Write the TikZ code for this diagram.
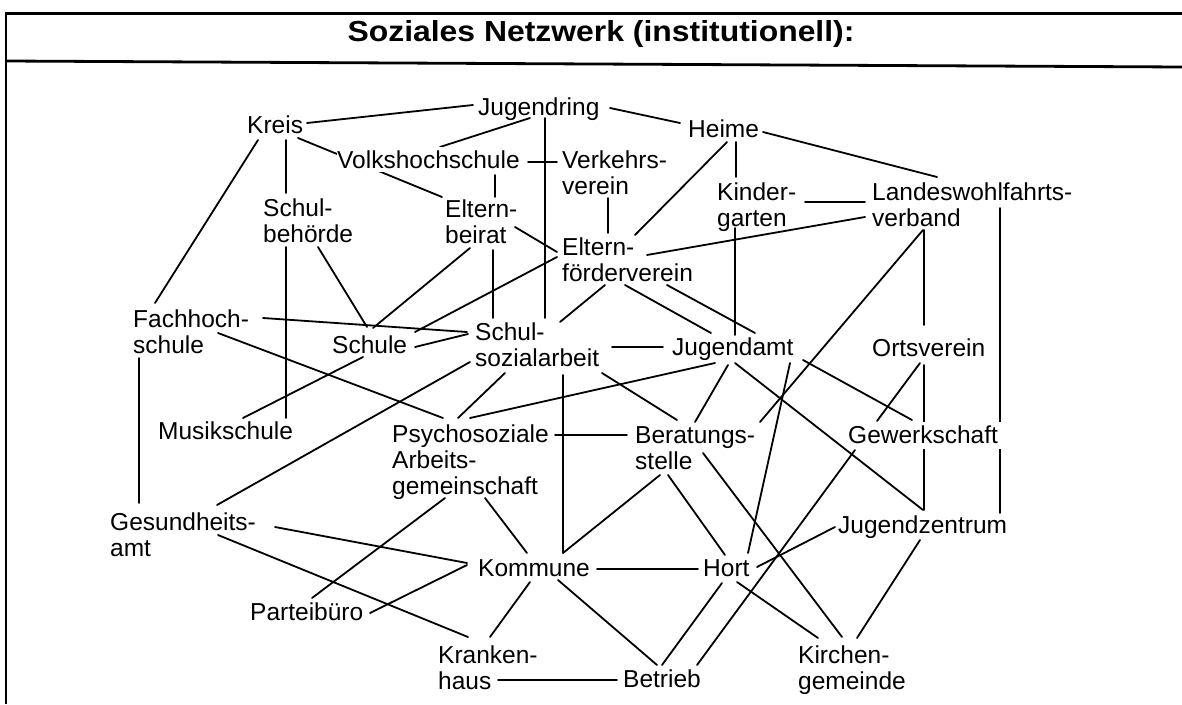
\documentclass[tikz,border=0pt]{standalone}
\usepackage{fontspec}
\setmainfont{Liberation Sans}
\newfontfamily\titlefont[FakeStretch=1.1]{Liberation Sans}
\usetikzlibrary{backgrounds}
% stacked label lines; the box baseline stays on the first line
\newcommand\twolines[2]{\vtop{\hbox{#1}\hbox{#2}}}
\newcommand\threelines[3]{\vtop{\hbox{#1}\hbox{#2}\hbox{#3}}}

\begin{document}
\begin{tikzpicture}[x=1pt,y=-1pt,
  lbl/.style={inner sep=0pt, anchor=base west,
              font=\fontsize{24.5}{26}\selectfont},
  cover/.style={lbl, fill=white, text height=21pt, text depth=6pt},
  link/.style={line width=1.8pt, line cap=round},
  frame/.style={line width=2.4pt}]

\useasboundingbox (0,0) rectangle (1182,704);

% frame and title bar
\draw[frame] (6,704) -- (6,13.5) -- (1182,13.5);
\draw[line width=2.8pt] (6,61) -- (1182,67);
\node[font=\titlefont\bfseries\fontsize{29}{32}\selectfont, anchor=base, inner sep=0pt]
  (title) at (601,41) {Soziales Netzwerk (institutionell):};

% institutions
\node[lbl] (jugendring) at (478,115) {Jugendring};
\node[lbl] (kreis)      at (247,133) {Kreis};
\node[lbl] (heime)      at (688,137) {Heime};
\node[cover, text depth=4pt] (vhs) at (337,168) {Volkshochschule};
\node[lbl] (verkehr)    at (562,168) {\twolines{Verkehrs-}{verein}};
\node[lbl] (kinder)     at (717,200) {\twolines{Kinder-}{garten}};
\node[lbl] (lwv)        at (872,200) {\twolines{Landeswohlfahrts-}{verband}};
\node[lbl] (schulbeh)   at (263,216) {\twolines{Schul-}{behörde}};
\node[lbl] (ebeirat)    at (445,217) {\twolines{Eltern-}{beirat}};
\node[lbl] (efoerder)   at (562,255) {\twolines{Eltern-}{förderverein}};
\node[lbl] (fachhoch)   at (133,327) {\twolines{Fachhoch-}{schule}};
\node[lbl] (schule)     at (332,353) {Schule};
\node[lbl] (ssa)        at (475,340) {\twolines{Schul-}{sozialarbeit}};
\node[lbl] (jamt)       at (672,355) {Jugendamt};
\node[lbl] (ortsv)      at (872,356) {Ortsverein};
\node[lbl] (musik)      at (158,439) {Musikschule};
\node[lbl] (psycho)     at (392,442) {\threelines{Psychosoziale}{Arbeits-}{gemeinschaft}};
\node[lbl] (berat)      at (635,443) {\twolines{Beratungs-}{stelle}};
\node[cover] (gewerk)   at (848,443) {Gewerkschaft\kern4pt};
\node[lbl] (gesund)     at (110,530) {\twolines{Gesundheits-}{amt}};
\node[lbl] (jzentrum)   at (838,533) {Jugendzentrum};
\node[lbl] (kommune)    at (478,576) {Kommune};
\node[lbl] (hort)       at (703,576) {Hort};
\node[lbl] (partei)     at (250,620) {Parteibüro};
\node[lbl] (kranken)    at (438,663) {\twolines{Kranken-}{haus}};
\node[lbl] (betrieb)    at (623,687) {Betrieb};
\node[lbl] (kirchen)    at (798,663) {\twolines{Kirchen-}{gemeinde}};

% connections (kept below the labels)
\begin{scope}[on background layer]
\draw[link] ([shift={(60,-10)}]kreis.base west) -- ([shift={(-5,-10)}]jugendring.base west);
\draw[link] ([shift={(52,3)}]jugendring.base west) -- ([shift={(103,-21)}]vhs.base west);
\draw[link] ([shift={(132,-7)}]jugendring.base west) -- ([shift={(-8,-14)}]heime.base west);
\draw[link] ([shift={(67,3)}]jugendring.base west) -- ([shift={(70,-22)}]ssa.base west);
\draw[link] ([shift={(51,5)}]kreis.base west) -- ([shift={(-3,-20)}]ebeirat.base west);
\draw[link] ([shift={(39,7)}]kreis.base west) -- ([shift={(23,-23)}]schulbeh.base west);
\draw[link] ([shift={(11,7)}]kreis.base west) -- ([shift={(22,-24)}]fachhoch.base west);
\draw[link] ([shift={(191,-6)}]vhs.base west) -- ([shift={(-5,-6)}]verkehr.base west);
\draw[link] ([shift={(158,7)}]vhs.base west) -- ([shift={(50,-20)}]ebeirat.base west);
\draw[link] ([shift={(23,31)}]schulbeh.base west) -- ([shift={(128,-21)}]musik.base west);
\draw[link] ([shift={(55,31)}]schulbeh.base west) -- ([shift={(35,-26)}]schule.base west);
\draw[link] ([shift={(25,31)}]ebeirat.base west) -- ([shift={(41,-25)}]schule.base west);
\draw[link] ([shift={(48,33)}]ebeirat.base west) -- ([shift={(18,-22)}]ssa.base west);
\draw[link] ([shift={(70,10)}]ebeirat.base west) -- ([shift={(-5,-3)}]efoerder.base west);
\draw[link] ([shift={(-5,2)}]efoerder.base west) -- ([shift={(83,-21)}]schule.base west);
\draw[link] ([shift={(46,30)}]verkehr.base west) -- ([shift={(46,-22)}]efoerder.base west);
\draw[link] ([shift={(39,5)}]heime.base west) -- ([shift={(73,-20)}]efoerder.base west);
\draw[link] ([shift={(48,5)}]heime.base west) -- ([shift={(19,-23)}]kinder.base west);
\draw[link] ([shift={(75,-5)}]heime.base west) -- ([shift={(65,-23)}]lwv.base west);
\draw[link] ([shift={(88,2)}]kinder.base west) -- ([shift={(-7,2)}]lwv.base west);
\draw[link] ([shift={(85,0)}]efoerder.base west) -- ([shift={(-7,17)}]lwv.base west);
\draw[link] ([shift={(18,28)}]kinder.base west) -- ([shift={(63,-20)}]jamt.base west);
\draw[link] ([shift={(51,30)}]lwv.base west) -- ([shift={(125,-21)}]berat.base west);
\draw[link] ([shift={(52,30)}]lwv.base west) -- ([shift={(52,-31)}]ortsv.base west);
\draw[link] ([shift={(128,8)}]lwv.base west) -- ([shift={(162,-20)}]jzentrum.base west);
\draw[link] ([shift={(43,30)}]efoerder.base west) -- ([shift={(85,-18)}]ssa.base west);
\draw[link] ([shift={(63,30)}]efoerder.base west) -- ([shift={(39,-22)}]jamt.base west);
\draw[link] ([shift={(105,30)}]efoerder.base west) -- ([shift={(83,-22)}]jamt.base west);
\draw[link] ([shift={(130,-9)}]fachhoch.base west) -- ([shift={(-8,-8)}]ssa.base west);
\draw[link] ([shift={(85,6)}]fachhoch.base west) -- ([shift={(51,-24)}]psycho.base west);
\draw[link] ([shift={(6,31)}]fachhoch.base west) -- ([shift={(29,-27)}]gesund.base west);
\draw[link] ([shift={(83,-6)}]schule.base west) -- ([shift={(-7,-6)}]ssa.base west);
\draw[link] ([shift={(31,4)}]schule.base west) -- ([shift={(85,-21)}]musik.base west);
\draw[link] ([shift={(-5,22)}]ssa.base west) -- ([shift={(107,-25)}]gesund.base west);
\draw[link] ([shift={(30,33)}]ssa.base west) -- ([shift={(66,-24)}]psycho.base west);
\draw[link] ([shift={(88,35)}]ssa.base west) -- ([shift={(85,-23)}]kommune.base west);
\draw[link] ([shift={(137,7)}]ssa.base west) -- ([shift={(-9,-8)}]jamt.base west);
\draw[link] ([shift={(127,33)}]ssa.base west) -- ([shift={(42,-23)}]berat.base west);
\draw[link] ([shift={(43,8)}]jamt.base west) -- ([shift={(78,-24)}]psycho.base west);
\draw[link] ([shift={(163,-7)}]psycho.base west) -- ([shift={(-8,-8)}]berat.base west);
\draw[link] ([shift={(56,10)}]jamt.base west) -- ([shift={(60,-21)}]berat.base west);
\draw[link] ([shift={(131,5)}]jamt.base west) -- ([shift={(64,-23)}]gewerk.base west);
\draw[link] ([shift={(63,8)}]jamt.base west) -- ([shift={(85,-23)}]jzentrum.base west);
\draw[link] ([shift={(118,8)}]jamt.base west) -- ([shift={(45,-23)}]hort.base west);
\draw[link] ([shift={(48,7)}]ortsv.base west) -- ([shift={(29,-22)}]gewerk.base west);
\draw[link] ([shift={(52,9)}]ortsv.base west) -- ([shift={(86,-23)}]jzentrum.base west);
\draw[link] ([shift={(25,32)}]berat.base west) -- ([shift={(85,-23)}]kommune.base west);
\draw[link] ([shift={(33,32)}]berat.base west) -- ([shift={(22,-21)}]hort.base west);
\draw[link] ([shift={(68,10)}]berat.base west) -- ([shift={(44,-26)}]kirchen.base west);
\draw[link] ([shift={(7,7)}]gewerk.base west) -- ([shift={(74,-22)}]betrieb.base west);
\draw[link] ([shift={(-3,-6)}]jzentrum.base west) -- ([shift={(54,-9)}]hort.base west);
\draw[link] ([shift={(119,-7)}]kommune.base west) -- ([shift={(-5,-7)}]hort.base west);
\draw[link] ([shift={(80,4)}]kommune.base west) -- ([shift={(34,-22)}]betrieb.base west);
\draw[link] ([shift={(19,7)}]hort.base west) -- ([shift={(39,-22)}]betrieb.base west);
\draw[link] ([shift={(34,6)}]hort.base west) -- ([shift={(20,-25)}]kirchen.base west);
\draw[link] ([shift={(82,7)}]jzentrum.base west) -- ([shift={(59,-25)}]kirchen.base west);
\draw[link] ([shift={(60,17)}]kranken.base west) -- ([shift={(-6,-7)}]betrieb.base west);
\draw[link] ([shift={(165,-3)}]gesund.base west) -- ([shift={(-11,-13)}]kommune.base west);
\draw[link] ([shift={(120,-7)}]partei.base west) -- ([shift={(-11,-11)}]kommune.base west);
\draw[link] ([shift={(108,5)}]gesund.base west) -- ([shift={(30,-26)}]kranken.base west);
\draw[link] ([shift={(53,56)}]psycho.base west) -- ([shift={(62,-22)}]partei.base west);
\draw[link] ([shift={(93,56)}]psycho.base west) -- ([shift={(49,-23)}]kommune.base west);
\draw[link] ([shift={(52,6)}]kommune.base west) -- ([shift={(52,-26)}]kranken.base west);
\end{scope}
\end{tikzpicture}
\end{document}
